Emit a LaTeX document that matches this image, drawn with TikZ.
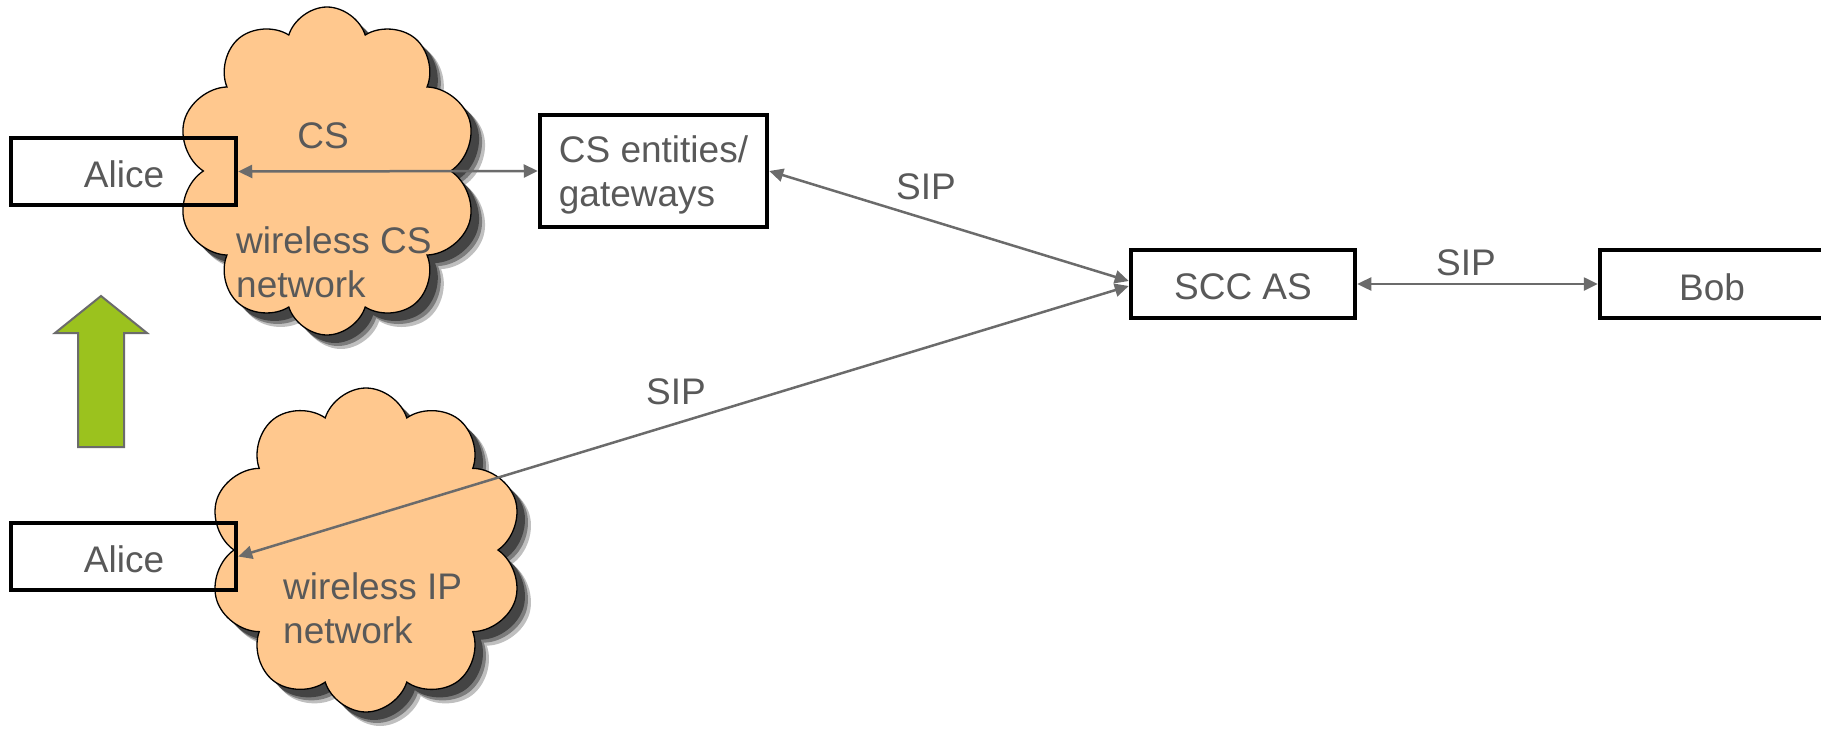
\documentclass[tikz,border=0pt]{standalone}
\usepackage{fontspec}
\setmainfont{Liberation Sans}
\usetikzlibrary{shapes.symbols,shadows,arrows.meta}
\definecolor{txt}{HTML}{595959}
\definecolor{ln}{HTML}{6B6B6B}
\definecolor{peach}{RGB}{255,200,142}
\definecolor{lime}{RGB}{155,194,30}
\begin{document}
\begin{tikzpicture}[x=1pt,y=-1pt,
  font=\fontsize{37}{44}\selectfont,
  box/.style={draw=black, line width=4.5pt, text=txt, inner sep=0pt},
  cloudy/.style={cloud, cloud puffs=10, cloud puff arc=145, cloud ignores aspect,
    draw=black, line width=1.3pt, fill=peach, inner sep=0pt,
    drop shadow={shadow xshift=14pt, shadow yshift=-14pt, opacity=0.25, fill=black},
    drop shadow={shadow xshift=11pt, shadow yshift=-11pt, opacity=0.35, fill=black},
    drop shadow={shadow xshift=8pt, shadow yshift=-8pt, opacity=0.45, fill=black}},
  lbl/.style={text=txt, inner sep=0pt},
  conn/.style={draw=ln, line width=2.5pt, >={Triangle[length=14pt,width=13pt]}, <->}]
\useasboundingbox (0,0) rectangle (1821,731);
% clouds
\node[cloudy, minimum width=300pt, minimum height=328pt] (cloud1) at (327,171) {};
\node[cloudy, minimum width=314pt, minimum height=324pt] (cloud2) at (366,550) {};
% boxes
\node[box, minimum width=225pt, minimum height=67pt] (alice1) at (123.5,171.5) {};
\node[lbl] (alicetxt1) at (124,174) {Alice};
\node[box, minimum width=225pt, minimum height=67pt] (alice2) at (123.5,556.5) {};
\node[lbl] (alicetxt2) at (124,559) {Alice};
\node[box, minimum width=227pt, minimum height=112pt] (csent) at (653.5,171) {};
\node[lbl, align=left] (csenttxt) at (653.5,175) {CS entities/\\gateways};
\node[box, minimum width=224pt, minimum height=68pt] (scc) at (1243,284) {};
\node[lbl] (scctxt) at (1243,287) {SCC AS};
\node[box, minimum width=224pt, minimum height=68pt] (bob) at (1712,284) {};
\node[lbl] (bobtxt) at (1712,287) {Bob};
% texts
\node[lbl] (cslbl) at (323,136) {CS};
\node[lbl, anchor=west, align=left] (wcs) at (236,262) {wireless CS\\network};
\node[lbl, anchor=west, align=left] (wip) at (283,608) {wireless IP\\network};
\node[lbl] (sip1) at (926,187) {SIP};
\node[lbl] (sip2) at (1466,263) {SIP};
\node[lbl] (sip3) at (676,392) {SIP};
% connectors
\draw[conn] (alice1.east) -- (csent.west);
\draw[conn] (csent.east) -- ([yshift=3pt]scc.west);
\draw[conn] ([yshift=-2pt]scc.west) -- (alice2.east);
\draw[conn] (scc.east) -- (bob.west);
% green arrow
\draw[draw=ln, line width=2pt, fill=lime] (78,447) -- (78,333) -- (55,333) -- (101,296) -- (147,333) -- (124,333) -- (124,447) -- cycle;
\end{tikzpicture}
\end{document}
